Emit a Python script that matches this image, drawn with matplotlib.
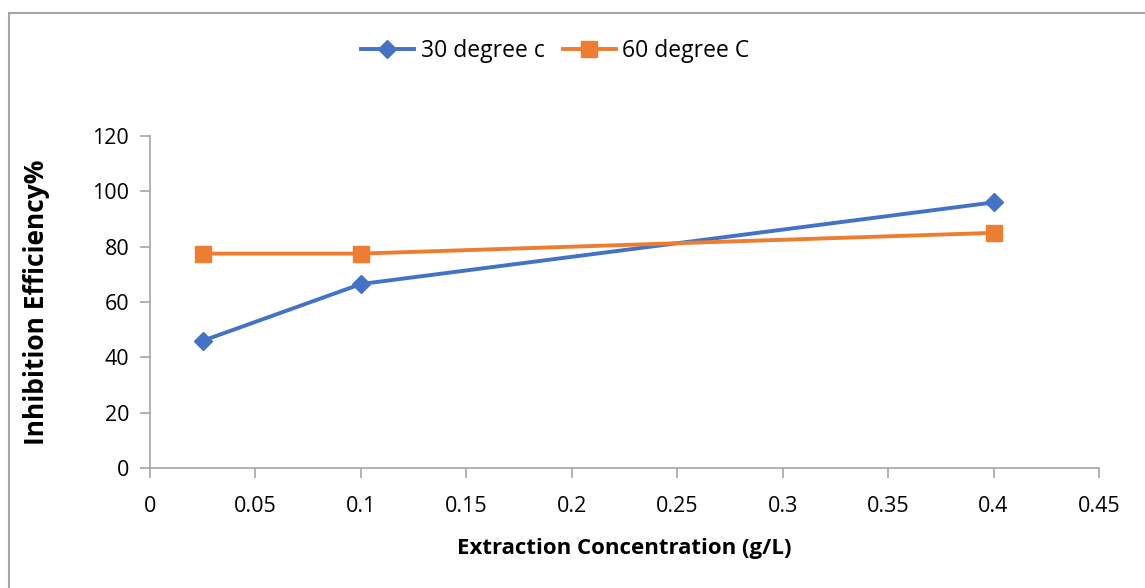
import matplotlib
matplotlib.use('Agg')
import matplotlib.pyplot as plt
from matplotlib.patches import Rectangle

# Inhibition efficiency vs extract concentration at two temperatures
concentration = [0.025, 0.1, 0.4]
eff_30c = [46, 66.5, 96]
eff_60c = [77.5, 77.5, 85]

x_ticks = [0, 0.05, 0.1, 0.15, 0.2, 0.25, 0.3, 0.35, 0.4, 0.45]
x_tick_labels = ["0", "0.05", "0.1", "0.15", "0.2", "0.25", "0.3", "0.35", "0.4", "0.45"]
y_ticks = [0, 20, 40, 60, 80, 100, 120]

plt.rcParams['font.family'] = ['Open Sans', 'DejaVu Sans']

fig = plt.figure(figsize=(11.45, 5.88), dpi=100)
ax = fig.add_axes([0.131, 0.204, 0.8288, 0.5647])

ax.plot(concentration, eff_30c, color="#4472C4", linewidth=2.8, marker="D",
        markersize=9, label="30 degree c")
ax.plot(concentration, eff_60c, color="#ED7D31", linewidth=2.8, marker="s",
        markersize=12, label="60 degree C")

ax.set_xlim(0, 0.45)
ax.set_ylim(0, 120)
ax.set_xticks(x_ticks)
ax.set_xticklabels(x_tick_labels)
ax.set_yticks(y_ticks)

for side in ("top", "right"):
    ax.spines[side].set_visible(False)
for side in ("left", "bottom"):
    ax.spines[side].set_color("#a6a6a6")
    ax.spines[side].set_linewidth(1.2)
ax.tick_params(axis="both", colors="#a6a6a6", labelcolor="black", labelsize=15.5,
               length=7, width=1.2, direction="out")
ax.tick_params(axis="x", pad=13)
ax.tick_params(axis="y", pad=8)

ax.set_xlabel("Extraction Concentration (g/L)", fontsize=16, fontweight="bold", labelpad=15)
ax.set_ylabel("Inhibition Efficiency%", fontsize=19, fontweight="bold", labelpad=30)

fig.legend(loc="center", bbox_to_anchor=(0.485, 0.914), ncol=2, frameon=False,
           fontsize=16.5, handlelength=2.3, columnspacing=0.8, handletextpad=0.3)

# outer chart border
fig.patches.append(Rectangle((8.5 / 1145, -0.05), 1.2, 1 - 12.5 / 588 + 0.05,
                             transform=fig.transFigure, fill=False,
                             edgecolor="#a6a6a6", linewidth=1.5))

fig.savefig("out.png", dpi=100, facecolor="white")
